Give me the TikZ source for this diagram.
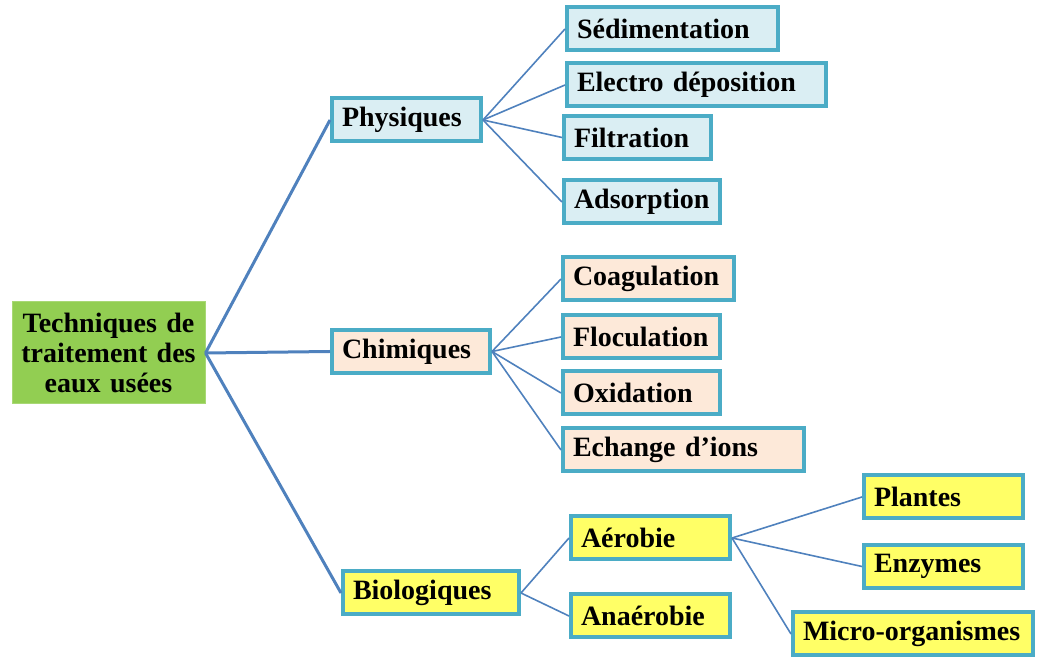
\documentclass[tikz,border=0pt]{standalone}
\usepackage{fontspec}
\setmainfont{Liberation Serif}
\usetikzlibrary{positioning}
\definecolor{vert}{RGB}{146,206,82}
\definecolor{bordure}{RGB}{75,172,198}
\definecolor{bleuclair}{RGB}{218,238,243}
\definecolor{peche}{RGB}{253,233,217}
\definecolor{jaune}{RGB}{255,255,102}
\definecolor{trait}{RGB}{79,129,189}
\tikzset{
	boite/.style={draw=bordure, line width=2pt, anchor=west, inner xsep=5pt, inner ysep=2pt,
		minimum height=21.5pt, align=left, font=\fontsize{14}{16}\selectfont\bfseries},
	physique/.style={boite, fill=bleuclair},
	chimique/.style={boite, fill=peche},
	biologique/.style={boite, fill=jaune},
	branche/.style={trait, line width=1.5pt},
	rameau/.style={trait, line width=0.8pt}
}

\begin{document}
\begin{tikzpicture}[x=0.5pt, y=-0.5pt]

	\useasboundingbox (0,0) rectangle (1040,657);

	\node[fill=vert, draw=vert!80!white, line width=0.5pt, minimum width=96.5pt, minimum height=51pt,
		text width=90pt, align=center, inner xsep=3pt, font=\fontsize{14}{15}\selectfont\bfseries]
		(racine) at (108.5,353) {Techniques de\\ traitement des\\ eaux usées};

	% physiques
	\node[physique, text width=64.5pt] (phys) at (330,120) {Physiques};
	\node[physique, text width=95.5pt] (sedi) at (565,29) {Sédimentation};
	\node[physique, text width=119.5pt] (elec) at (565,85) {Electro déposition};
	\node[physique, text width=63.5pt] (filt) at (562,137.5) {Filtration};
	\node[physique, text width=68pt] (adso) at (562,202) {Adsorption};

	% chimiques
	\node[chimique, text width=69pt] (chim) at (330,351.5) {Chimiques};
	\node[chimique, text width=75.5pt] (coag) at (561,279) {Coagulation};
	\node[chimique, text width=68.5pt] (floc) at (561,337) {Floculation};
	\node[chimique, text width=68.5pt] (oxid) at (561,393) {Oxidation};
	\node[chimique, text width=110.5pt] (echa) at (561,450) {Echange d’ions};

	% biologiques
	\node[biologique, text width=78pt] (bio) at (341,593) {Biologiques};
	\node[biologique, text width=69.5pt] (aero) at (569,538) {Aérobie};
	\node[biologique, text width=69.5pt] (anae) at (569,616) {Anaérobie};
	\node[biologique, text width=69.5pt] (plan) at (862,497) {Plantes};
	\node[biologique, text width=69.5pt] (enzy) at (862,566.5) {Enzymes};
	\node[biologique, text width=110pt] (micr) at (791,634) {\mbox{Micro-organismes}};

	\foreach \b in {phys,chim,bio}
		\draw[branche] (racine.east) -- (\b.west);
	\foreach \f in {sedi,elec,filt,adso}
		\draw[rameau] (phys.east) -- (\f.west);
	\foreach \f in {coag,floc,oxid,echa}
		\draw[rameau] (chim.east) -- (\f.west);
	\foreach \f in {aero,anae}
		\draw[rameau] (bio.east) -- (\f.west);
	\foreach \f in {plan,enzy,micr}
		\draw[rameau] (aero.east) -- (\f.west);

\end{tikzpicture}
\end{document}
